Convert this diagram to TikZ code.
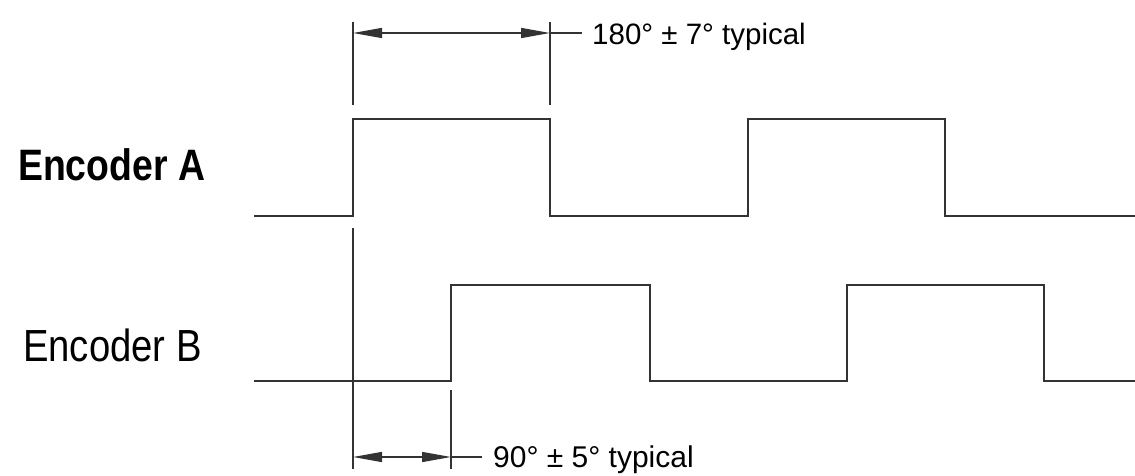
\documentclass[tikz,border=0pt]{standalone}
\usepackage{fontspec}
\setmainfont{Liberation Sans}
\usetikzlibrary{arrows.meta}
\definecolor{ln}{HTML}{333333}
\begin{document}
\begin{tikzpicture}[x=1pt,y=-1pt,
  wave/.style={draw=ln,line width=2pt,line join=miter},
  ext/.style={draw=ln,line width=1.6pt},
  dim/.style={draw=ln,line width=1.4pt},
  tipa/.style={-{Triangle[length=29pt,width=10pt]}},
  lbl/.style={inner sep=0pt,text=black}]
\useasboundingbox (0,0) rectangle (1135,476);
% waveforms
\draw[wave] (254,216) -- (353,216) -- (353,119) -- (550,119) -- (550,216) -- (748,216) -- (748,119) -- (945,119) -- (945,216) -- (1135,216);
\draw[wave] (254,381) -- (451,381) -- (451,285) -- (650,285) -- (650,381) -- (847,381) -- (847,285) -- (1044,285) -- (1044,381) -- (1135,381);
% labels
\node[lbl,anchor=base west] (encA) at (18,180) {\scalebox{0.85}[1]{\fontsize{44}{46}\selectfont\bfseries Encoder A}};
\node[lbl,anchor=base west] (encB) at (23,361) {\scalebox{0.85}[1]{\fontsize{45}{47}\selectfont Encoder B}};
% top dimension
\coordinate (t1) at (353,22); \coordinate (t1b) at (353,105);
\coordinate (t2) at (550,22); \coordinate (t2b) at (550,105);
\draw[ext] (t1) -- (t1b);
\draw[ext] (t2) -- (t2b);
\coordinate (ta) at (353,33); \coordinate (tb) at (550,33); \coordinate (tm) at (451,33);
\coordinate (tl) at (582,33);
\draw[dim,tipa] (tm) -- (ta);
\draw[dim,tipa] (tm) -- (tb);
\draw[dim] (tb) -- (tl);
\node[lbl,anchor=base west] (topl) at (592,45) {\fontsize{29.5}{31}\selectfont 180° ± 7° typical};
% bottom dimension
\coordinate (b1) at (353,228); \coordinate (b1b) at (353,469);
\coordinate (b2) at (451,390); \coordinate (b2b) at (451,469);
\draw[ext] (b1) -- (b1b);
\draw[ext] (b2) -- (b2b);
\coordinate (ba) at (353,457); \coordinate (bb) at (451,457); \coordinate (bm) at (402,457);
\coordinate (bl) at (482,457);
\draw[dim,tipa] (bm) -- (ba);
\draw[dim,tipa] (bm) -- (bb);
\draw[dim] (bb) -- (bl);
\node[lbl,anchor=base west] (botl) at (493,467) {\fontsize{30}{32}\selectfont 90° ± 5° typical};
\end{tikzpicture}
\end{document}
